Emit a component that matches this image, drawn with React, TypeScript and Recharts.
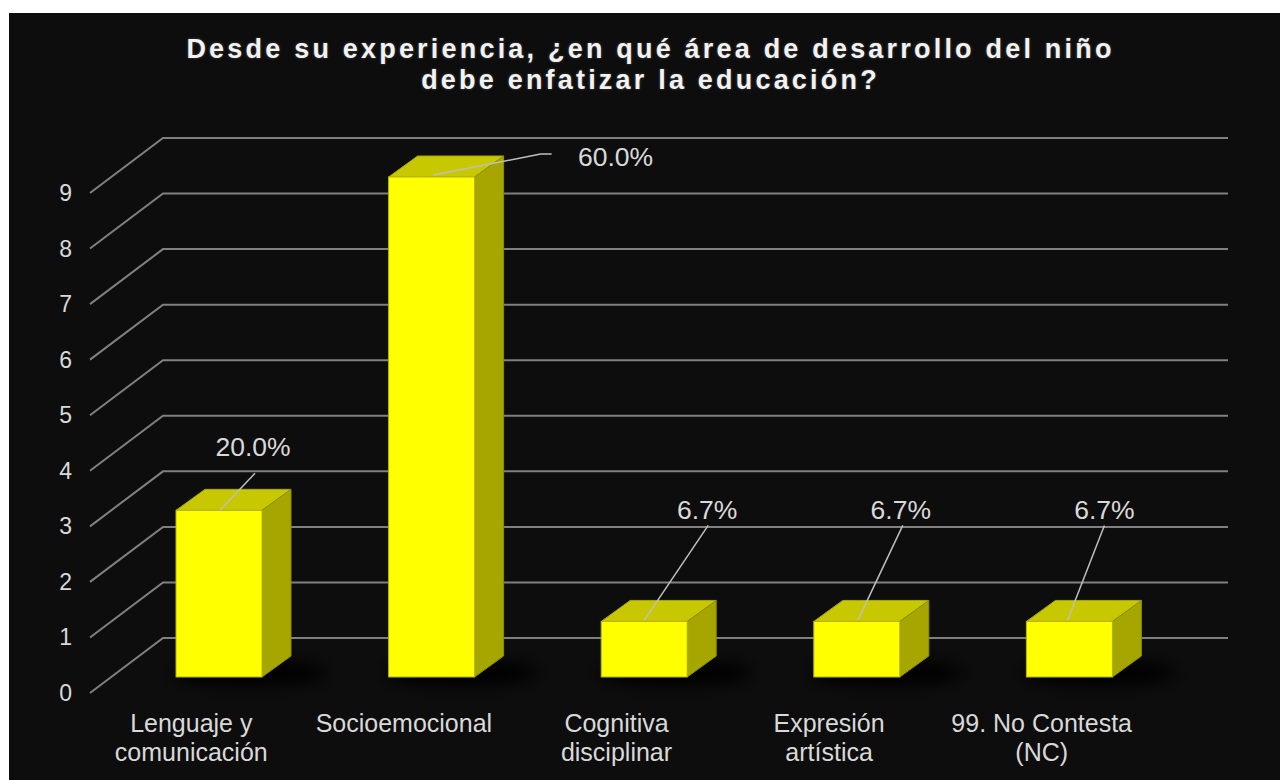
import { BarChart, Bar, XAxis, YAxis, CartesianGrid, LabelList } from 'recharts';

const categories = [
  'Lenguaje y comunicación',
  'Socioemocional',
  'Cognitiva disciplinar',
  'Expresión artística',
  '99. No Contesta (NC)',
];
const counts = [3, 9, 1, 1, 1];
const yTicks = [0, 1, 2, 3, 4, 5, 6, 7, 8, 9];

const total = counts.reduce((a, b) => a + b, 0);
const data = categories.map((name, i) => ({
  name,
  count: counts[i],
  pct: ((counts[i] / total) * 100).toFixed(1) + '%',
}));

// label placement, relative to the top-front centre of each bar
const labelLayout = [
  { tx: 34, ty: -63, leader: [[1, 0], [36, -37]] },
  { tx: 184, ty: -20, leader: [[2, -2], [109, -23], [120, -23]] },
  { tx: 63, ty: -111, leader: [[0, -1], [64, -96]] },
  { tx: 44, ty: -111, leader: [[1, -1], [46, -96]] },
  { tx: 35, ty: -111, leader: [[-2, -1], [35, -96]] },
];

const W = 1271;
const H = 767;
const FONT = '"Liberation Sans", Arial, sans-serif';
const TXT = '#d9d9d9';
const GRID = '#808080';

// 3D geometry
const BAR_DX = 29;
const BAR_DY = -21;
const FRONT_X = 81;
const WALL_DX = 73;
const FRONT_OFF = 16;
const BACK_OFF = -39;
const GRID_RIGHT = 1219;

// simple word wrap, as excel does for the category labels
function wrap(s: string, max = 15) {
  const lines: string[] = [];
  let cur = '';
  for (const w of s.split(' ')) {
    const next = cur ? cur + ' ' + w : w;
    if (next.length > max && cur) {
      lines.push(cur);
      cur = w;
    } else {
      cur = next;
    }
  }
  if (cur) lines.push(cur);
  return lines;
}

const gridLine = (p: any) => (
  <polyline
    key={`grid-${p.index}`}
    points={`${FRONT_X},${p.y1 + FRONT_OFF} ${FRONT_X + WALL_DX},${p.y1 + BACK_OFF} ${GRID_RIGHT},${p.y1 + BACK_OFF}`}
    fill="none"
    stroke={GRID}
    strokeWidth={2}
  />
);

function Box3D(props: any) {
  const { x, y, width: w, height: h } = props;
  if (h == null || w == null) return null;
  return (
    <g>
      <ellipse
        cx={x + w / 2 + 30}
        cy={y + h - 4}
        rx={w * 0.9}
        ry={13}
        fill="#000"
        filter="url(#shadowBlur)"
      />
      <polygon
        points={`${x},${y} ${x + BAR_DX},${y + BAR_DY} ${x + w + BAR_DX},${y + BAR_DY} ${x + w},${y}`}
        fill="#c8c800"
        stroke="#a8a800"
        strokeWidth={1}
      />
      <polygon
        points={`${x + w},${y} ${x + w + BAR_DX},${y + BAR_DY} ${x + w + BAR_DX},${y + h + BAR_DY} ${x + w},${y + h}`}
        fill="#a6a600"
        stroke="#8f8f00"
        strokeWidth={1}
      />
      <rect x={x} y={y} width={w} height={h} fill="#ffff00" stroke="#b5b500" strokeWidth={1} />
    </g>
  );
}

function ValueLabel(props: any) {
  const { x, y, width, value, index } = props;
  const lay = labelLayout[index];
  if (!lay) return null;
  const cx = x + width / 2;
  const pts = lay.leader.map(([dx, dy]) => `${cx + dx},${y + dy}`).join(' ');
  return (
    <g>
      <polyline points={pts} fill="none" stroke="#bfbfbf" strokeWidth={1.5} />
      <text
        x={cx + lay.tx}
        y={y + lay.ty}
        dy={9}
        textAnchor="middle"
        fill={TXT}
        fontSize={26.5}
        fontFamily={FONT}
      >
        {value}
      </text>
    </g>
  );
}

function YTick({ y, payload }: any) {
  return (
    <text
      x={63}
      y={y + FRONT_OFF}
      dy={8}
      textAnchor="end"
      fill={TXT}
      fontSize={23}
      fontFamily={FONT}
    >
      {payload.value}
    </text>
  );
}

function XTick({ x, y, payload }: any) {
  const lines = wrap(String(payload.value));
  const lx = x - 28;
  return (
    <text
      x={lx}
      y={y + 47}
      textAnchor="middle"
      fill={TXT}
      fontSize={25}
      fontFamily={FONT}
    >
      {lines.map((l, i) => (
        <tspan key={i} x={lx} dy={i === 0 ? 0 : 29}>
          {l}
        </tspan>
      ))}
    </text>
  );
}

export default function App() {
  return (
    <div
      style={{
        position: 'absolute',
        left: 9,
        top: 13,
        width: W,
        height: H,
        background: '#0d0d0d',
        fontFamily: FONT,
      }}
    >
      <div
        style={{
          position: 'absolute',
          left: 0,
          top: 21,
          width: W,
          textAlign: 'center',
          color: '#f2f2f2',
          fontWeight: 700,
          fontSize: 27,
          lineHeight: '31px',
          letterSpacing: 3.2,
          textShadow: '0 0 3px rgba(255,255,255,0.25)',
          paddingLeft: 12,
          boxSizing: 'border-box',
        }}
      >
        Desde su experiencia, ¿en qué área de desarrollo del niño
        <br />
        debe enfatizar la educación?
      </div>
      <BarChart
        width={W}
        height={H}
        data={data}
        margin={{ top: 164, right: 104, bottom: 43, left: 44 }}
        style={{ position: 'absolute', left: 0, top: 0 }}
      >
        <defs>
          <filter id="shadowBlur" x="-50%" y="-200%" width="200%" height="500%">
            <feGaussianBlur stdDeviation="8" />
          </filter>
        </defs>
        <CartesianGrid vertical={false} horizontal={gridLine} />
        <YAxis
          domain={[0, 9]}
          ticks={yTicks}
          width={60}
          axisLine={false}
          tickLine={false}
          tick={<YTick />}
        />
        <XAxis
          dataKey="name"
          height={60}
          axisLine={false}
          tickLine={false}
          interval={0}
          tick={<XTick />}
        />
        <Bar dataKey="count" barSize={86} shape={<Box3D />} isAnimationActive={false}>
          <LabelList dataKey="pct" content={<ValueLabel />} />
        </Bar>
      </BarChart>
    </div>
  );
}
